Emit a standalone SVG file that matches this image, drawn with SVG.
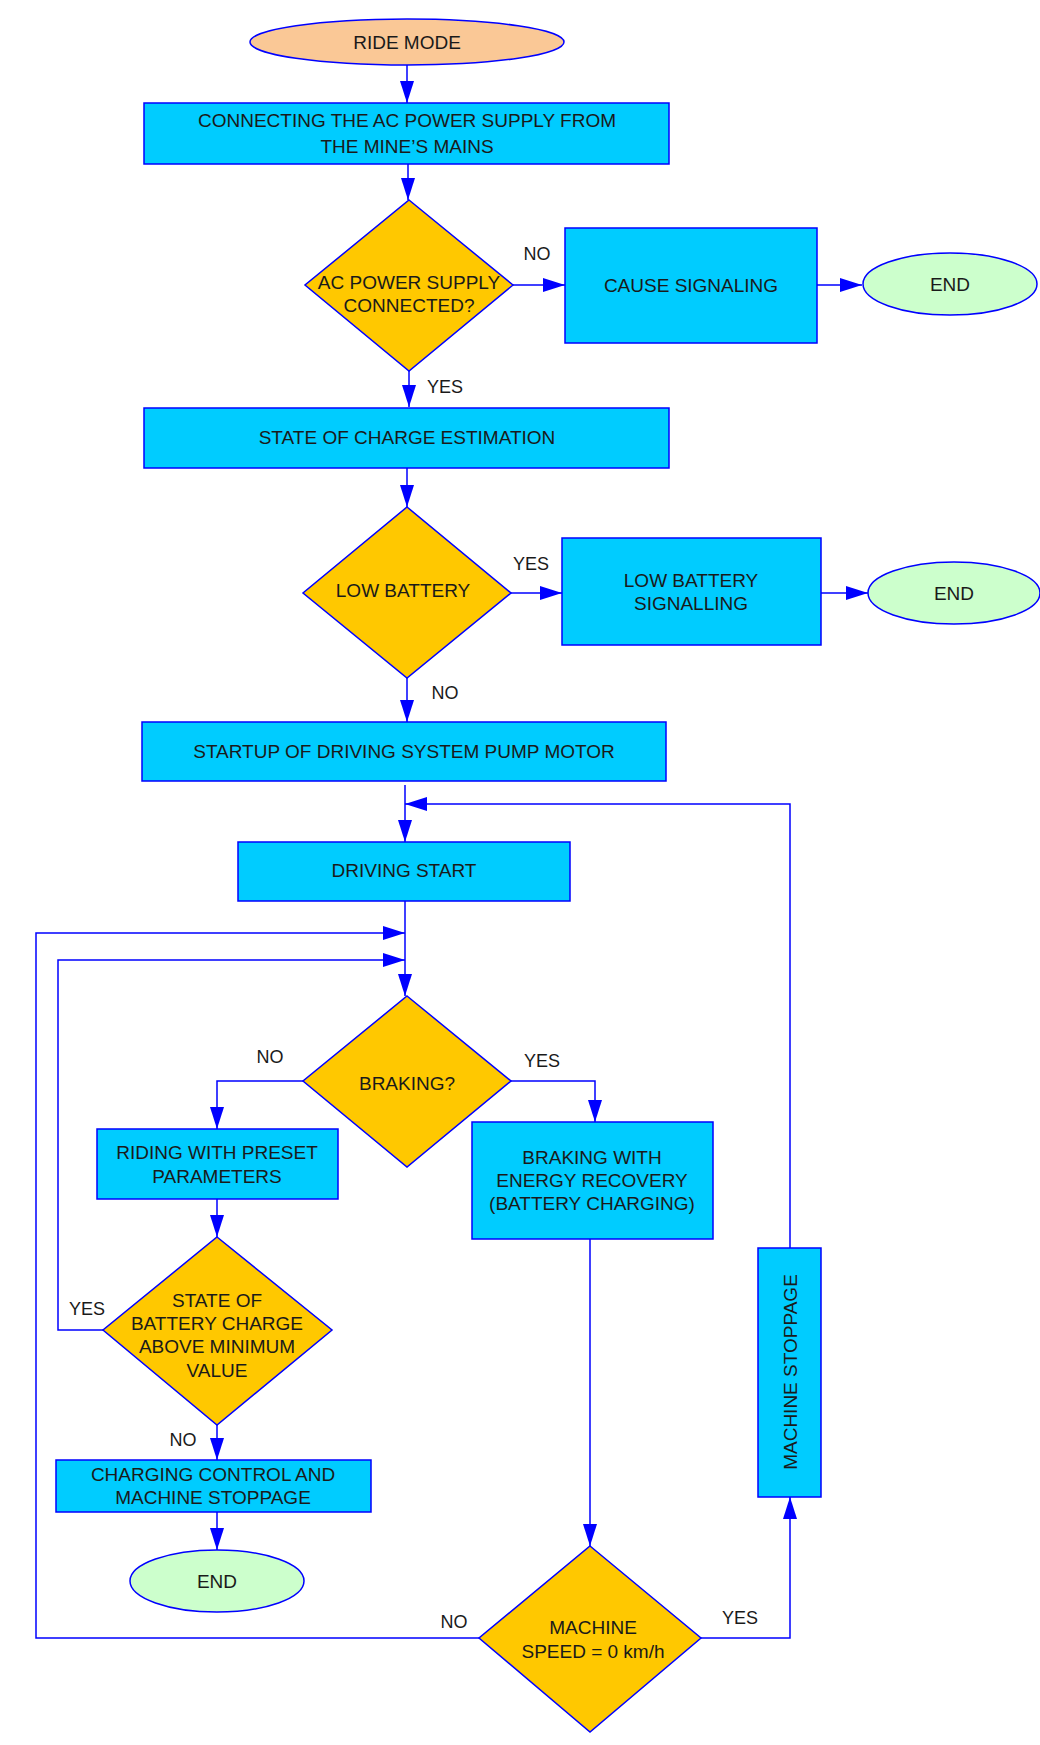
<svg xmlns="http://www.w3.org/2000/svg" width="1040" height="1745" viewBox="0 0 1040 1745">
<style>
text{font-family:"Liberation Sans",Arial,sans-serif;font-size:19px;fill:#1a1a1a;text-anchor:middle;dominant-baseline:central}
.box{fill:#00ccff;stroke:#0000ff;stroke-width:1.5}
.dia{fill:#ffc800;stroke:#0000ff;stroke-width:1.5}
.end{fill:#ccffcc;stroke:#0000ff;stroke-width:1.5}
.c path{fill:none;stroke:#0000ff;stroke-width:1.5;marker-end:url(#ah)}
.lbl{font-size:18px}
</style>
<defs>
<marker id="ah" markerUnits="userSpaceOnUse" markerWidth="22" markerHeight="14" refX="22" refY="7" orient="auto"><path d="M0,0 L22,7 L0,14 z" fill="#0000ff"/></marker>
</defs>
<g id="ride"><ellipse cx="407" cy="42" rx="157" ry="23" fill="#fac896" stroke="#0000ff" stroke-width="1.5"/><text x="407" y="42">RIDE MODE</text></g>
<g id="connect"><rect class="box" x="144" y="103" width="525" height="61"/><text x="407" y="120">CONNECTING THE AC POWER SUPPLY FROM</text><text x="407" y="146">THE MINE’S MAINS</text></g>
<g id="acq"><polygon class="dia" points="409,200 513,285 409,371 305,285"/><text x="409" y="282">AC POWER SUPPLY</text><text x="409" y="305">CONNECTED?</text></g>
<g id="cause"><rect class="box" x="565" y="228" width="252" height="115"/><text x="691" y="285">CAUSE SIGNALING</text></g>
<g id="end1"><ellipse class="end" cx="950" cy="284" rx="87" ry="31"/><text x="950" y="284">END</text></g>
<g id="soc"><rect class="box" x="144" y="408" width="525" height="60"/><text x="407" y="437">STATE OF CHARGE ESTIMATION</text></g>
<g id="lowq"><polygon class="dia" points="407,507 511,593 407,678 303,593"/><text x="403" y="590">LOW BATTERY</text></g>
<g id="lowsig"><rect class="box" x="562" y="538" width="259" height="107"/><text x="691" y="580">LOW BATTERY</text><text x="691" y="603">SIGNALLING</text></g>
<g id="end2"><ellipse class="end" cx="954" cy="593" rx="86" ry="31"/><text x="954" y="593">END</text></g>
<g id="startup"><rect class="box" x="142" y="722" width="524" height="59"/><text x="404" y="751">STARTUP OF DRIVING SYSTEM PUMP MOTOR</text></g>
<g id="drive"><rect class="box" x="238" y="842" width="332" height="59"/><text x="404" y="870">DRIVING START</text></g>
<g id="brakq"><polygon class="dia" points="407,996 511,1081 407,1167 303,1081"/><text x="407" y="1083">BRAKING?</text></g>
<g id="riding"><rect class="box" x="97" y="1129" width="241" height="70"/><text x="217" y="1152">RIDING WITH PRESET</text><text x="217" y="1176">PARAMETERS</text></g>
<g id="braking"><rect class="box" x="472" y="1122" width="241" height="117"/><text x="592" y="1157">BRAKING WITH</text><text x="592" y="1180">ENERGY RECOVERY</text><text x="592" y="1203">(BATTERY CHARGING)</text></g>
<g id="socq"><polygon class="dia" points="217,1237 332,1330 217,1425 103,1330"/><text x="217" y="1300">STATE OF</text><text x="217" y="1323">BATTERY CHARGE</text><text x="217" y="1346">ABOVE MINIMUM</text><text x="217" y="1370">VALUE</text></g>
<g id="charging"><rect class="box" x="56" y="1460" width="315" height="52"/><text x="213" y="1474">CHARGING CONTROL AND</text><text x="213" y="1497">MACHINE STOPPAGE</text></g>
<g id="end3"><ellipse class="end" cx="217" cy="1581" rx="87" ry="31"/><text x="217" y="1581">END</text></g>
<g id="speedq"><polygon class="dia" points="590,1546 701,1638 590,1732 479,1638"/><text x="593" y="1627">MACHINE</text><text x="593" y="1651">SPEED = 0 km/h</text></g>
<g id="stop"><rect class="box" x="758" y="1248" width="63" height="249"/><text x="790" y="1372" transform="rotate(-90 790 1372)">MACHINE STOPPAGE</text></g>
<g class="c" id="connectors">
<path d="M407,65 V103"/>
<path d="M408,164 V200"/>
<path d="M513,285 H565"/>
<path d="M817,285 H862"/>
<path d="M409,371 V407"/>
<path d="M407,468 V507"/>
<path d="M511,593 H562"/>
<path d="M821,593 H868"/>
<path d="M407,678 V722"/>
<path d="M405,785 V842"/>
<path d="M790,1248 V804 H405"/>
<path d="M405,901 V996"/>
<path d="M479,1638 H36 V933 H405"/>
<path d="M103,1330 H58 V960 H405"/>
<path d="M303,1081 H217 V1129"/>
<path d="M511,1081 H595 V1122"/>
<path d="M217,1199 V1237"/>
<path d="M217,1425 V1460"/>
<path d="M217,1512 V1550"/>
<path d="M590,1239 V1546"/>
<path d="M701,1638 H790 V1497"/>
</g>
<g id="labels">
<text class="lbl" x="537" y="254">NO</text>
<text class="lbl" x="445" y="387">YES</text>
<text class="lbl" x="531" y="564">YES</text>
<text class="lbl" x="445" y="693">NO</text>
<text class="lbl" x="270" y="1057">NO</text>
<text class="lbl" x="542" y="1061">YES</text>
<text class="lbl" x="87" y="1309">YES</text>
<text class="lbl" x="183" y="1440">NO</text>
<text class="lbl" x="454" y="1622">NO</text>
<text class="lbl" x="740" y="1618">YES</text>
</g>
</svg>
